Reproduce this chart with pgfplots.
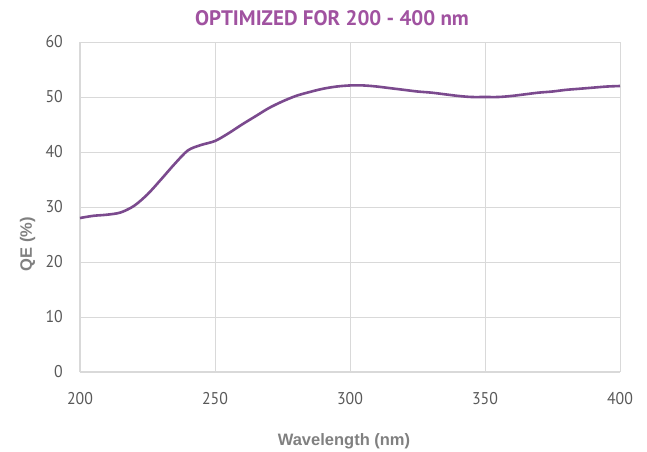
\documentclass[border=0pt]{standalone}
\usepackage{fontspec}
\usepackage{pgfplots}
\pgfplotsset{compat=1.18}
\setmainfont{Liberation Sans}
\newfontfamily\tickfont[FakeStretch=0.93]{PT Sans}
\newfontfamily\titlefont[FakeStretch=1.0]{PT Sans Bold}

\definecolor{titlepurple}{HTML}{A052A0}
\definecolor{qeline}{HTML}{7B4A8E}
\definecolor{gridgray}{HTML}{D9D9D9}
\definecolor{tickgray}{HTML}{595959}
\definecolor{labelgray}{HTML}{808080}

\begin{document}
\begin{tikzpicture}
\begin{axis}[
  scale only axis,
  width=540bp, height=330bp,
  xmin=200, xmax=400, ymin=0, ymax=60,
  xtick={200,250,...,400}, ytick={0,10,...,60},
  grid=major,
  major grid style={gridgray, line width=0.8bp},
  axis line style={gridgray, line width=1bp},
  tick style={draw=none},
  /pgf/number format/assume math mode=true,
  ticklabel style={font=\fontsize{17bp}{17bp}\tickfont, text=tickgray, inner sep=0pt},
  xticklabel style={anchor=base, yshift=-33bp},
  yticklabel style={anchor=east, xshift=-17bp},
]
\addplot[qeline, line width=2.6bp, smooth] coordinates {
 (200,28.0) (205,28.4) (210,28.6) (215,29.0) (220,30.2) (225,32.3)
 (230,35.0) (235,37.8) (240,40.3) (245,41.3) (250,42.0) (255,43.4)
 (260,45.0) (265,46.5) (270,48.0) (275,49.2) (280,50.2) (285,50.9)
 (290,51.5) (295,51.9) (300,52.1) (305,52.1) (310,51.9) (315,51.6)
 (320,51.3) (325,51.0) (330,50.8) (335,50.5) (340,50.2) (345,50.0)
 (350,50.0) (355,50.0) (360,50.2) (365,50.5) (370,50.8) (375,51.0)
 (380,51.3) (385,51.5) (390,51.7) (395,51.9) (400,52.0)
};
\end{axis}
\node[anchor=base, text=titlepurple, font=\fontsize{21bp}{21bp}\titlefont, inner sep=0pt]
  at ([shift={(252bp,346bp)}]current axis.south west) {OPTIMIZED FOR 200 - 400 nm};
\node[anchor=base, text=labelgray, font=\fontsize{16.5bp}{16.5bp}\bfseries, inner sep=0pt]
  at ([shift={(264bp,-73bp)}]current axis.south west) {Wavelength (nm)};
\node[anchor=base, rotate=90, text=labelgray, font=\fontsize{16.5bp}{16.5bp}\bfseries, inner sep=0pt]
  at ([shift={(-48bp,128bp)}]current axis.south west) {QE (\%)};
\pgfresetboundingbox
\path ([shift={(-80bp,-80bp)}]current axis.south west) rectangle ([shift={(567bp,372bp)}]current axis.south west);
\end{tikzpicture}
\end{document}
